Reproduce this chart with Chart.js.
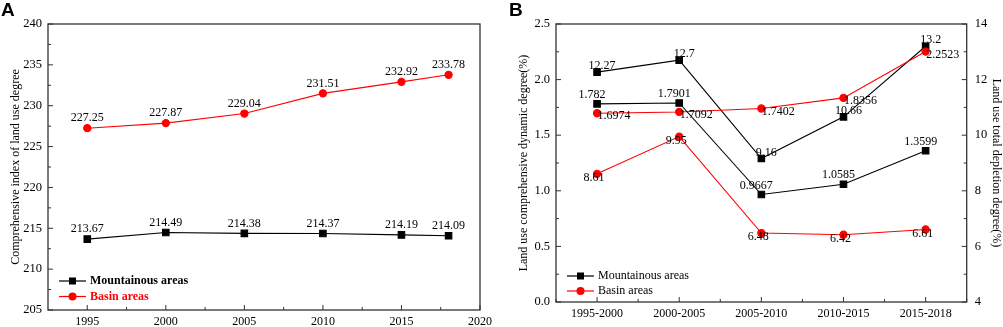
<!DOCTYPE html>
<html><head><meta charset="utf-8">
<script src="https://cdn.jsdelivr.net/npm/chart.js@4/dist/chart.umd.min.js"></script>
<style>
html,body{margin:0;padding:0;background:#fff;width:1003px;height:327px;overflow:hidden}
canvas{position:absolute;top:0}
#a{left:0}#b{left:500px}
</style></head><body>
<canvas id="a" width="500" height="327"></canvas>
<canvas id="b" width="503" height="327"></canvas>
<script>
// ---- data ----
const seriesNames = ['Mountainous areas', 'Basin areas'];
const yearsA = [1995, 2000, 2005, 2010, 2015, 2018];
const mountainA = [213.67, 214.49, 214.38, 214.37, 214.19, 214.09];
const basinA = [227.25, 227.87, 229.04, 231.51, 232.92, 233.78];
const xTicksA = [1995, 2000, 2005, 2010, 2015, 2020];
const yTicksA = [205, 210, 215, 220, 225, 230, 235, 240];

const periodsB = ['1995-2000', '2000-2005', '2005-2010', '2010-2015', '2015-2018'];
const mountainDynB = [1.782, 1.7901, 0.9667, 1.0585, 1.3599];
const basinDynB = [1.6974, 1.7092, 1.7402, 1.8356, 2.2523];
const mountainDepB = [12.27, 12.7, 9.16, 10.66, 13.2];
const basinDepB = [8.61, 9.95, 6.48, 6.42, 6.61];
const yTicksBLeft = [0, 0.5, 1.0, 1.5, 2.0, 2.5];
const yTicksBRight = [4, 6, 8, 10, 12, 14];

// ---- styling ----
const SERIF = '"Liberation Serif","Times New Roman",serif';
const SANS = '"Liberation Sans",Arial,sans-serif';
const BLACK = '#000000', RED = '#ff0000';
Chart.defaults.font.family = SERIF;
Chart.defaults.color = '#000';

const setTicks = arr => s => { s.ticks = arr.map(v => ({value: v})); };

const decorPlugin = {
  id: 'decor',
  afterDraw(chart, args, o) {
    const ctx = chart.ctx, a = chart.chartArea;
    ctx.save();
    // frame
    ctx.strokeStyle = '#333'; ctx.lineWidth = 1.3;
    ctx.strokeRect(a.left, a.top, a.right - a.left, a.bottom - a.top);
    // inward ticks
    ctx.lineWidth = 1;
    (o.tickSpecs || []).forEach(t => {
      const s = chart.scales[t.id];
      const vals = s.ticks.map(k => k.value);
      const minors = [];
      if (t.category) {
        for (let i = 0; i <= vals.length; i++) minors.push(i - 0.5);
      } else {
        for (let i = 0; i < vals.length - 1; i++) minors.push((vals[i] + vals[i + 1]) / 2);
      }
      const draw = (v, len) => {
        const p = s.getPixelForValue(v);
        ctx.beginPath();
        if (t.side === 'left') { ctx.moveTo(a.left, p); ctx.lineTo(a.left + len, p); }
        else if (t.side === 'right') { ctx.moveTo(a.right, p); ctx.lineTo(a.right - len, p); }
        else { ctx.moveTo(p, a.bottom); ctx.lineTo(p, a.bottom - len); }
        ctx.stroke();
      };
      vals.forEach(v => draw(v, 5));
      minors.forEach(v => draw(v, 3));
    });
    // data labels
    ctx.font = '12px ' + SERIF;
    ctx.fillStyle = '#000';
    ctx.textAlign = 'center'; ctx.textBaseline = 'middle';
    chart.data.datasets.forEach((ds, di) => {
      const meta = chart.getDatasetMeta(di);
      const dl = ds.dl || {dx: 0, dy: -10};
      meta.data.forEach((pt, i) => {
        const v = ds.data[i];
        const val = (typeof v === 'object') ? v.y : v;
        ctx.fillText(String(val), pt.x + dl.dx, pt.y + dl.dy);
      });
    });
    // legend
    const lg = o.legend;
    if (lg) {
      lg.items.forEach((it, i) => {
        const y = lg.y + i * lg.dy;
        ctx.strokeStyle = it.color; ctx.lineWidth = 1.2;
        ctx.beginPath(); ctx.moveTo(lg.x, y); ctx.lineTo(lg.x + lg.len, y); ctx.stroke();
        ctx.fillStyle = it.color;
        const cx = lg.x + lg.len / 2;
        if (it.style === 'rect') ctx.fillRect(cx - 3.5, y - 3.5, 7, 7);
        else { ctx.beginPath(); ctx.arc(cx, y, 4, 0, Math.PI * 2); ctx.fill(); }
        ctx.font = lg.font;
        ctx.fillStyle = it.textColor;
        ctx.textAlign = 'left'; ctx.textBaseline = 'middle';
        ctx.fillText(it.label, lg.x + lg.len + 4, y);
      });
    }
    // panel letter
    if (o.letter) {
      ctx.font = 'bold 19px ' + SANS;
      ctx.fillStyle = '#000';
      ctx.textAlign = 'left'; ctx.textBaseline = 'top';
      ctx.fillText(o.letter.text, o.letter.x, o.letter.y);
    }
    ctx.restore();
  }
};

const yTickFont = {family: SERIF, size: 12.5};
const xTickFont = {family: SERIF, size: 12};
const titleFont = {family: SERIF, size: 12};
const noGrid = {display: false, drawTicks: false, tickLength: 0};

// ---- Panel A ----
new Chart(document.getElementById('a'), {
  type: 'line',
  data: {
    datasets: [
      {label: seriesNames[0], data: yearsA.map((x, i) => ({x, y: mountainA[i]})),
       borderColor: BLACK, backgroundColor: BLACK, pointBackgroundColor: BLACK, pointBorderColor: BLACK,
       pointStyle: 'rect', pointRadius: 4.6, borderWidth: 1.1, dl: {dx: 0, dy: -10}},
      {label: seriesNames[1], data: yearsA.map((x, i) => ({x, y: basinA[i]})),
       borderColor: RED, backgroundColor: RED, pointBackgroundColor: RED, pointBorderColor: RED,
       pointStyle: 'circle', pointRadius: 3.6, borderWidth: 1.1, dl: {dx: 0, dy: -10}}
    ]
  },
  options: {
    responsive: false, animation: false, events: [],
    layout: {padding: {top: 24, right: 20, left: 0, bottom: 0}},
    plugins: {
      legend: {display: false}, tooltip: {enabled: false},
      decor: {
        tickSpecs: [{id: 'x', side: 'bottom'}, {id: 'y', side: 'left'}],
        legend: {x: 59, y: 281, dy: 15.5, len: 27, font: 'bold 12px ' + SERIF,
          items: [{label: seriesNames[0], color: BLACK, textColor: BLACK, style: 'rect'},
                  {label: seriesNames[1], color: RED, textColor: RED, style: 'circle'}]},
        letter: {text: 'A', x: 1, y: 1}
      }
    },
    scales: {
      x: {type: 'linear', min: 1992.5, max: 2020,
        afterBuildTicks: setTicks(xTicksA),
        ticks: {callback: v => String(v), font: xTickFont, color: '#000', padding: 5, maxRotation: 0, autoSkip: false},
        grid: noGrid, border: {display: false},
        afterFit: s => { s.height = 17; }},
      y: {type: 'linear', min: 205, max: 240,
        afterBuildTicks: setTicks(yTicksA),
        ticks: {callback: v => String(v), font: yTickFont, color: '#000', padding: 6, autoSkip: false},
        grid: noGrid, border: {display: false},
        title: {display: true, text: 'Comprehensive index of land use degree', font: titleFont, color: '#000', padding: {top: 9, bottom: 0}},
        afterFit: s => { s.width = 48; }}
    }
  },
  plugins: [decorPlugin]
});

// ---- Panel B ----
new Chart(document.getElementById('b'), {
  type: 'line',
  data: {
    labels: periodsB,
    datasets: [
      {label: seriesNames[0], data: mountainDynB, yAxisID: 'y',
       borderColor: BLACK, backgroundColor: BLACK, pointBackgroundColor: BLACK, pointBorderColor: BLACK,
       pointStyle: 'rect', pointRadius: 4.6, borderWidth: 1.1, dl: {dx: -5, dy: -9}},
      {label: seriesNames[1], data: basinDynB, yAxisID: 'y',
       borderColor: RED, backgroundColor: RED, pointBackgroundColor: RED, pointBorderColor: RED,
       pointStyle: 'circle', pointRadius: 3.6, borderWidth: 1.1, dl: {dx: 17, dy: 3}},
      {label: seriesNames[0], data: mountainDepB, yAxisID: 'y1',
       borderColor: BLACK, backgroundColor: BLACK, pointBackgroundColor: BLACK, pointBorderColor: BLACK,
       pointStyle: 'rect', pointRadius: 4.6, borderWidth: 1.1, dl: {dx: 5, dy: -6}},
      {label: seriesNames[1], data: basinDepB, yAxisID: 'y1',
       borderColor: RED, backgroundColor: RED, pointBackgroundColor: RED, pointBorderColor: RED,
       pointStyle: 'circle', pointRadius: 3.6, borderWidth: 1.1, dl: {dx: -3, dy: 4}}
    ]
  },
  options: {
    responsive: false, animation: false, events: [],
    layout: {padding: {top: 24, right: 0, left: 0, bottom: 0}},
    plugins: {
      legend: {display: false}, tooltip: {enabled: false},
      decor: {
        tickSpecs: [{id: 'x', side: 'bottom', category: true}, {id: 'y', side: 'left'}, {id: 'y1', side: 'right'}],
        legend: {x: 67, y: 276, dy: 15, len: 27, font: '12px ' + SERIF,
          items: [{label: seriesNames[0], color: BLACK, textColor: BLACK, style: 'rect'},
                  {label: seriesNames[1], color: RED, textColor: BLACK, style: 'circle'}]},
        letter: {text: 'B', x: 9, y: 1}
      }
    },
    scales: {
      x: {type: 'category', offset: true,
        ticks: {font: xTickFont, color: '#000', padding: 5, maxRotation: 0, autoSkip: false},
        grid: Object.assign({offset: true}, noGrid), border: {display: false},
        afterFit: s => { s.height = 25; }},
      y: {type: 'linear', position: 'left', min: 0, max: 2.5,
        afterBuildTicks: setTicks(yTicksBLeft),
        ticks: {callback: v => v.toFixed(1), font: yTickFont, color: '#000', padding: 6, autoSkip: false},
        grid: noGrid, border: {display: false},
        title: {display: true, text: 'Land use comprehensive dynamic degree(%)', font: titleFont, color: '#000', padding: {top: 17, bottom: 0}},
        afterFit: s => { s.width = 56; }},
      y1: {type: 'linear', position: 'right', min: 4, max: 14,
        afterBuildTicks: setTicks(yTicksBRight),
        ticks: {callback: v => String(v), font: yTickFont, color: '#000', padding: 8, autoSkip: false},
        grid: noGrid, border: {display: false},
        title: {display: true, text: 'Land use total depletion degree(%)', font: titleFont, color: '#000', padding: {top: 0, bottom: 0}},
        afterFit: s => { s.width = 36.3; }}
    }
  },
  plugins: [decorPlugin]
});
</script>
</body></html>
